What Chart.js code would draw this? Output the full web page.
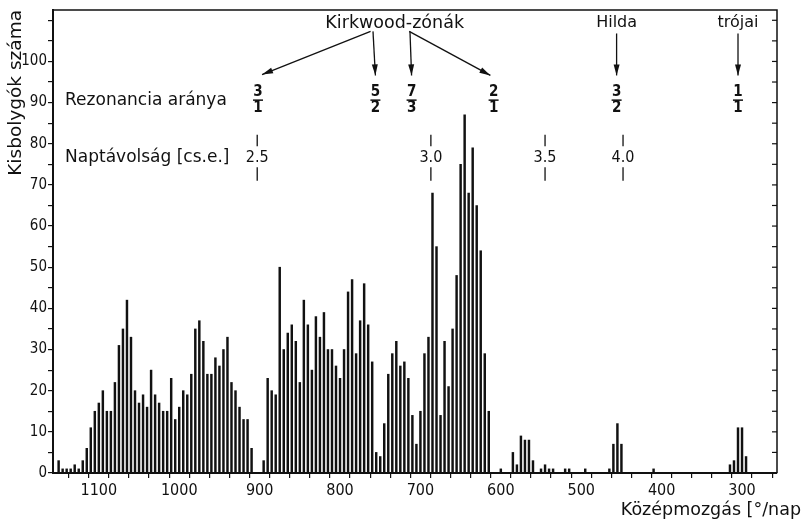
<!DOCTYPE html>
<html><head><meta charset="utf-8">
<script src="https://cdn.jsdelivr.net/npm/chart.js@4.4.0/dist/chart.umd.min.js"></script>
<style>html,body{margin:0;padding:0;background:#fff}#wrap{width:802px;height:528px}</style>
</head><body><div id="wrap"><canvas id="c" width="802" height="528"></canvas></div>
<script>
// mean motion bins (°/day)
const meanMotion = [
1150,1145,1140,1135,1130,1125,1120,1115,1110,1105,
1100,1095,1090,1085,1080,1075,1070,1065,1060,1055,
1050,1045,1040,1035,1030,1025,1020,1015,1010,1005,
1000,995,990,985,980,975,970,965,960,955,
950,945,940,935,930,925,920,915,910,905,
900,895,890,885,880,875,870,865,860,855,
850,845,840,835,830,825,820,815,810,805,
800,795,790,785,780,775,770,765,760,755,
750,745,740,735,730,725,720,715,710,705,
700,695,690,685,680,675,670,665,660,655,
650,645,640,635,630,625,620,615,610,605,
600,595,590,585,580,575,570,565,560,555,
550,545,540,535,530,525,520,515,510,505,
500,495,490,485,480,475,470,465,460,455,
450,445,440,435,430,425,420,415,410,405,
400,395,390,385,380,375,370,365,360,355,
350,345,340,335,330,325,320,315,310,305,
300,295,290,285,280,275,270,265,260];
// number of asteroids per bin
const asteroidCounts = [
3,1,1,1,2,1,3,6,11,15,
17,20,15,15,22,31,35,42,33,20,
17,19,16,25,19,17,15,15,23,13,
16,20,19,24,35,37,32,24,24,28,
26,30,33,22,20,16,13,13,6,0,
0,3,23,20,19,50,30,34,36,32,
22,42,36,25,38,33,39,30,30,26,
23,30,44,47,29,37,46,36,27,5,
4,12,24,29,32,26,27,23,14,7,
15,29,33,68,55,14,32,21,35,48,
75,87,68,79,65,54,29,15,0,0,
1,0,0,5,2,9,8,8,3,0,
1,2,1,1,0,0,1,1,0,0,
0,1,0,0,0,0,0,1,7,12,
7,0,0,0,0,0,0,0,1,0,
0,0,0,0,0,0,0,0,0,0,
0,0,0,0,0,0,0,2,3,11,
11,4,0,0,0,0,0,0,0];
const xTickLabels = [1100,1000,900,800,700,600,500,400,300];
const xTickMarks = [1150,1125,1100,1075,1050,1025,1000,975,950,925,900,875,850,825,800,775,750,725,700,675,650,625,600,575,550,525,500,475,450,425,400,375,350,325,300,275];
const yTickLabels = [0,10,20,30,40,50,60,70,80,90,100];
const yTickMarks = [0,5,10,15,20,25,30,35,40,45,50,55,60,65,70,75,80,85,90,95,100,105,110];

// annotation texts (positions in data units)
const groupNames = ['Kirkwood-zónák','Hilda','trójai'];
const groupNameMotion = [732, 456, 305];
const resonanceNum = ['3','5','7','2','3','1'];
const resonanceDen = ['1','2','3','1','2','1'];
const resonanceMotion = [902, 756, 711, 609, 456, 305];
const distanceLabels = ['2.5','3.0','3.5','4.0'];
const distanceMotion = [903, 687, 545, 448];
const rowLabels = ['Rezonancia aránya','Naptávolság [cs.e.]'];
const xTitle = 'Középmozgás [°/nap';
const yTitle = 'Kisbolygók száma';

const NUMF = '"DejaVu Sans Condensed", "DejaVu Sans", sans-serif';
const TXTF = '"DejaVu Sans", sans-serif';
const INK = '#111';

function arrow(ctx, x1, y1, x2, y2) {
  ctx.beginPath(); ctx.moveTo(x1, y1); ctx.lineTo(x2, y2); ctx.stroke();
  const a = Math.atan2(y2 - y1, x2 - x1), L = 11, W = 3;
  ctx.beginPath();
  ctx.moveTo(x2, y2);
  ctx.lineTo(x2 - L*Math.cos(a) + W*Math.sin(a), y2 - L*Math.sin(a) - W*Math.cos(a));
  ctx.lineTo(x2 - L*Math.cos(a) - W*Math.sin(a), y2 - L*Math.sin(a) + W*Math.cos(a));
  ctx.closePath(); ctx.fill();
}

const annotations = {
  id: 'annotations',
  afterDraw(chart) {
    const {ctx, chartArea: ca, scales: {x, y}} = chart;
    ctx.save();
    ctx.strokeStyle = INK; ctx.fillStyle = INK;
    // frame top & right
    ctx.lineWidth = 1.5;
    ctx.beginPath();
    ctx.moveTo(ca.left, ca.top); ctx.lineTo(ca.right, ca.top); ctx.lineTo(ca.right, ca.bottom);
    ctx.stroke();
    // inward ticks on right border
    ctx.lineWidth = 1.2;
    y.ticks.forEach(t => {
      const py = y.getPixelForValue(t.value);
      ctx.beginPath(); ctx.moveTo(ca.right - 5, py); ctx.lineTo(ca.right, py); ctx.stroke();
    });
    const X = v => x.getPixelForValue(v), Y = v => y.getPixelForValue(v);
    // group names
    ctx.textAlign = 'center'; ctx.textBaseline = 'middle';
    groupNames.forEach((g, i) => {
      ctx.font = (i === 0 ? '17.5px ' : '16px ') + TXTF;
      ctx.fillText(g, X(groupNameMotion[i]), Y(109.3));
    });
    // arrows
    ctx.lineWidth = 1.3;
    const apexY = Y(107.3), endY = Y(96.6);
    arrow(ctx, X(762), apexY, X(897), Y(96.8));
    arrow(ctx, X(759), apexY, X(756), endY);
    arrow(ctx, X(713), apexY, X(711), endY);
    arrow(ctx, X(714), apexY, X(613), Y(96.6));
    arrow(ctx, X(456), Y(106.8), X(456), endY);
    arrow(ctx, X(305), Y(106.8), X(305), endY);
    // row labels
    ctx.font = '17px ' + TXTF; ctx.textAlign = 'left';
    ctx.fillText(rowLabels[0], X(1142), Y(90.5));
    ctx.fillText(rowLabels[1], X(1142), Y(76.7));
    // fractions
    ctx.font = 'bold 15px ' + NUMF; ctx.textAlign = 'center';
    resonanceMotion.forEach((m, i) => {
      const cx = X(m);
      ctx.fillText(resonanceNum[i], cx, Y(92.6));
      ctx.fillText(resonanceDen[i], cx, Y(88.6));
      ctx.lineWidth = 1.5;
      ctx.beginPath(); ctx.moveTo(cx - 5, Y(90.6)); ctx.lineTo(cx + 5, Y(90.6)); ctx.stroke();
    });
    // distances
    ctx.font = '16px ' + NUMF;
    ctx.lineWidth = 1.3;
    distanceMotion.forEach((m, i) => {
      const cx = X(m);
      ctx.fillText(distanceLabels[i], cx, Y(76.6));
      ctx.beginPath(); ctx.moveTo(cx, Y(82.2)); ctx.lineTo(cx, Y(79.4)); ctx.stroke();
      ctx.beginPath(); ctx.moveTo(cx, Y(74.3)); ctx.lineTo(cx, Y(71.0)); ctx.stroke();
    });
    // x title
    ctx.font = '17.5px ' + TXTF; ctx.textAlign = 'right';
    ctx.fillText(xTitle, 801, 510);
    ctx.restore();
  }
};

new Chart(document.getElementById('c'), {
  type: 'bar',
  data: {
    datasets: [{
      data: meanMotion.map((m, i) => ({x: m, y: asteroidCounts[i]})),
      backgroundColor: INK,
      borderWidth: 0,
      barThickness: 1.8
    }]
  },
  options: {
    responsive: false,
    animation: false,
    events: [],
    layout: {padding: {left: 0, right: 25, top: 10, bottom: 0}},
    plugins: {legend: {display: false}, tooltip: {enabled: false}},
    scales: {
      x: {
        type: 'linear', reverse: true, min: 256.5, max: 1157, offset: false,
        afterBuildTicks: s => { s.ticks = xTickMarks.map(v => ({value: v})); },
        afterFit: s => { s.height = 55; },
        ticks: {
          autoSkip: false, maxRotation: 0, minRotation: 0, color: INK, padding: 3,
          font: {family: NUMF, size: 16},
          callback: v => xTickLabels.includes(Number(v)) ? String(v) : ''
        },
        grid: {drawOnChartArea: false, tickLength: 5, color: INK, lineWidth: 1.2},
        border: {color: INK, width: 2}
      },
      y: {
        min: 0, max: 112.5,
        afterBuildTicks: s => { s.ticks = yTickMarks.map(v => ({value: v})); },
        afterFit: s => { s.width = 53; },
        ticks: {
          autoSkip: false, color: INK, padding: 1,
          font: {family: NUMF, size: 15},
          callback: v => yTickLabels.includes(Number(v)) ? String(v) : ''
        },
        grid: {drawOnChartArea: false, tickLength: 5, color: INK, lineWidth: 1.2},
        border: {color: INK, width: 2},
        title: {display: true, text: yTitle, align: 'end', color: INK,
                font: {family: TXTF, size: 18.5}, padding: {top: 5, bottom: 0}}
      }
    }
  },
  plugins: [annotations]
});
</script>
</body></html>
